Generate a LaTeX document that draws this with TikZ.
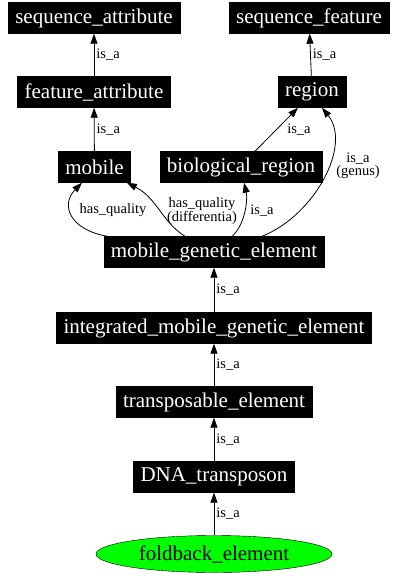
\documentclass[tikz,border=0pt]{standalone}
\usepackage{fontspec}
\setmainfont{Liberation Serif}
\usepackage{xcolor}
\definecolor{leafgreen}{RGB}{0,255,0}
\usetikzlibrary{arrows.meta, positioning, shapes.geometric}

\begin{document}
\begin{tikzpicture}[
  x=1pt, y=-1pt,
  term/.style={rectangle, draw=black, fill=#1, text=white, inner xsep=7pt,
               minimum height=31pt, font=\fontsize{21}{24}\selectfont},
  term/.default=black,
  leaf/.style={ellipse, draw=black, fill=leafgreen, text=black, inner sep=0pt,
               minimum width=236pt, minimum height=37pt, font=\fontsize{21}{24}\selectfont},
  rel/.style={draw=black, line width=0.8pt, -{Triangle[length=10pt,width=7pt]}},
  lbl/.style={font=\fontsize{14.5}{13}\selectfont, align=center, inner sep=2pt}
]
\useasboundingbox (0,0) rectangle (400,576);

% top row
\node[term] (seqattr) at (94,18) {sequence\_attribute};
\node[term] (seqfeat) at (309,18) {sequence\_feature};

% second row
\node[term] (featattr) at (94,92) {feature\_attribute};
\node[term] (region) at (312,92) {region};

% third row
\node[term] (mobile) at (94.5,167) {mobile};
\node[term] (bioreg) at (241,167) {biological\_region};

% main chain
\node[term] (mge) at (214,252) {mobile\_genetic\_element};
\node[term] (imge) at (214,328) {integrated\_mobile\_genetic\_element};
\node[term] (transp) at (214,402) {transposable\_element};
\node[term] (dnatr) at (214,477) {DNA\_transposon};
\node[leaf] (foldback) at (214,554) {foldback\_element};

% is_a edges, straight
\draw[rel] (featattr) -- node[lbl, right] {is\_a} (seqattr);
\draw[rel] (region) -- node[lbl, right] {is\_a} (seqfeat);
\draw[rel] (mobile) -- node[lbl, right] {is\_a} (featattr);
\draw[rel] ([xshift=14pt]bioreg.north) -- ([xshift=-14pt]region.south);
\node[lbl] at (299,130) {is\_a};

\draw[rel] (imge) -- node[lbl, right] {is\_a} (mge);
\draw[rel] (transp) -- node[lbl, right] {is\_a} (imge);
\draw[rel] (dnatr) -- node[lbl, right] {is\_a} (transp);
\draw[rel] (foldback) -- node[lbl, right] {is\_a} (dnatr);

% curved edges out of mobile_genetic_element
\draw[rel] ([xshift=4pt]mge.north west) .. controls (70,230) and (60,205) .. ([xshift=-12.5pt]mobile.south);
\node[lbl] at (113,210) {has\_quality};

\draw[rel] ([xshift=-29pt]mge.north) .. controls (162,222) and (157,198) .. ([xshift=-4pt]mobile.south east);
\node[lbl] at (202,211) {has\_quality\\(differentia)};

\draw[rel] ([xshift=18pt]mge.north) .. controls (245,225) and (248,200) .. ([xshift=3pt]bioreg.south);
\node[lbl] at (262,211) {is\_a};

\draw[rel] ([xshift=48pt]mge.north) .. controls (315,215) and (352,145) .. ([xshift=10pt]region.south);
\node[lbl] at (358,166) {is\_a\\(genus)};
\end{tikzpicture}
\end{document}
